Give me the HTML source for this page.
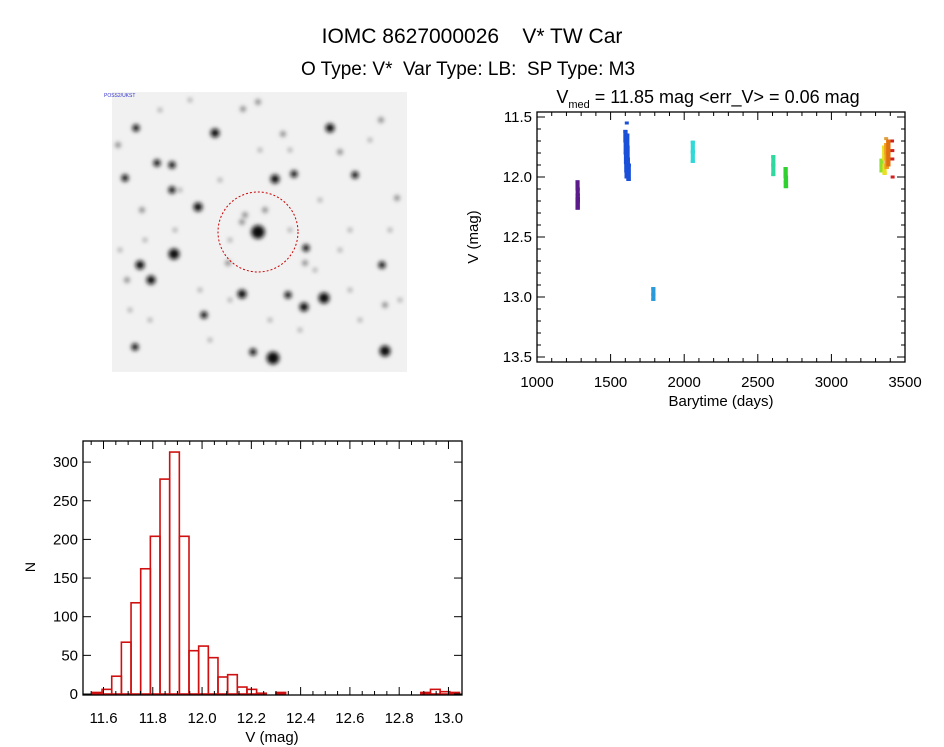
<!DOCTYPE html>
<html><head><meta charset="utf-8"><style>
html,body{margin:0;padding:0;background:#fff;width:944px;height:747px;overflow:hidden}
svg{display:block;font-family:"Liberation Sans",sans-serif}
</style></head><body>
<svg id="fig" width="944" height="747" viewBox="0 0 944 747">
<defs>
<filter id="bl" x="-1" y="-1" width="3" height="3"><feGaussianBlur stdDeviation="2.2"/></filter>
</defs>
<text x="472" y="43" font-size="21" text-anchor="middle" xml:space="preserve">IOMC 8627000026    V* TW Car</text>
<text x="468" y="75" font-size="19" text-anchor="middle" xml:space="preserve">O Type: V*  Var Type: LB:  SP Type: M3</text>
<g id="img">
<rect x="112" y="92" width="295" height="280" fill="#f1f1f1"/>
</g>
<g id="lc"></g>
<g id="hist"></g>
</svg>
<script>
// ---- sky image stars (x,y,r) ----
const starX=[258,136,215,275,330,198,174,140,151,242,324,304,204,273,253,385,135,382,294,355,172,125,157,172,306,305,228,283,381,340,243,258,397,142,127,288,385,242,118,160,190,230,320,350,370,300,270,210,150,390,130,180,290,340,200,360,260,220,245,265,120,400,315,175,230,350,290,145];
const starY=[232,128,133,179,128,207,254,265,280,294,298,307,315,358,352,351,347,265,174,175,190,178,163,165,248,263,263,134,120,152,109,102,198,210,280,295,305,222,145,110,100,240,200,230,140,330,320,340,320,230,310,190,150,250,290,320,150,180,215,210,250,300,270,230,300,290,230,240];
const starR=[7.5,4,5,5,5,5,6,5,5,5,6,5,4,7,4,6,4,4,4,4,4,4,4,4,4,3,3,3,3,3,3,3,3,3,3,4,3,3,3,2,2,2,2,2,2,2,2,2,2,2,2,2,2,2,2,2,2,2,3,3,2,2,2,2,2,2,2,2];
const NS="http://www.w3.org/2000/svg";
function mk(tag,attrs,parent){const e=document.createElementNS(NS,tag);for(const k in attrs)e.setAttribute(k,attrs[k]);parent.appendChild(e);return e;}
const img=document.getElementById('img');
for(let i=0;i<starX.length;i++){
  const c=mk('circle',{cx:starX[i],cy:starY[i],r:starR[i]*0.9,fill:starR[i]>=4?'#111':'#777',filter:'url(#bl)'},img);
  
  
}
const circ=mk('circle',{cx:258,cy:232,r:40,fill:'none',stroke:'#c00','stroke-width':1,'stroke-dasharray':'2 2'},img);


const ilab=mk('text',{x:104,y:97,'font-size':5,fill:'#33c'},img);ilab.textContent='POSS2/UKST';



// ---- light curve data ----
const lcT=[1275,1276,1277,1276,1278,1275,1600,1602,1604,1606,1608,1610,1612,1614,1616,1618,1620,1622,1624,1610,1612,1790,1791,1790,2058,2059,2058,2605,2606,2605,2688,2690,2692,2690,3340,3342,3340,3358,3360,3362,3360,3372,3374,3376,3374,3386,3388,3386,3372,3412,3414,3416,3414];
const lcV=[12.04,12.10,12.15,12.20,12.18,12.26,11.62,11.70,11.80,11.88,11.95,12.00,11.65,11.75,11.85,11.92,11.98,12.02,11.90,11.55,11.68,12.93,12.98,13.02,11.71,11.79,11.87,11.83,11.90,11.98,11.93,12.00,12.08,12.04,11.86,11.90,11.95,11.75,11.85,11.97,11.90,11.73,11.80,11.92,11.86,11.70,11.80,11.90,11.68,11.70,11.85,12.00,11.78];
const lcC=['#5a1a8a','#5a1a8a','#5a1a8a','#5a1a8a','#5a1a8a','#5a1a8a','#1a4fd8','#1a4fd8','#1a4fd8','#1a4fd8','#1a4fd8','#1a4fd8','#1a4fd8','#1a4fd8','#1a4fd8','#1a4fd8','#1a4fd8','#1a4fd8','#1a4fd8','#1a4fd8','#1a4fd8','#2a9ad8','#2a9ad8','#2a9ad8','#30d8d8','#30d8d8','#30d8d8','#30d8a0','#30d8a0','#30d8a0','#30d030','#30d030','#30d030','#30d030','#90e030','#90e030','#90e030','#e8e020','#e8e020','#e8e020','#e8e020','#f0a020','#f0a020','#f0a020','#f0a020','#e07010','#e07010','#e07010','#e0a040','#d02020','#d02020','#d02020','#d02020'];
const lcXTicks=[1000,1500,2000,2500,3000,3500];
const lcYTicks=[11.5,12.0,12.5,13.0,13.5];
const lcBox={l:537,r:905,t:112,b:362};
const lxs=t=>lcBox.l+(t-1000)/2500*(lcBox.r-lcBox.l);
const lys=v=>117+(v-11.5)*120;
const lc=document.getElementById('lc');
for(let i=0;i<lcT.length;i++){
  const m=mk('rect',{x:lxs(lcT[i])-2,y:lys(lcV[i])-1.5,width:4,height:3,fill:lcC[i]},lc);
  
  
}
for(let i=0;i+1<lcT.length;i++){
  if(Math.abs(lcT[i+1]-lcT[i])<=4 && lcC[i]===lcC[i+1] && Math.abs(lcV[i+1]-lcV[i])<0.12){
    const y1=Math.min(lys(lcV[i]),lys(lcV[i+1])),y2=Math.max(lys(lcV[i]),lys(lcV[i+1]));
    const s=mk('rect',{x:Math.min(lxs(lcT[i]),lxs(lcT[i+1]))-2,y:y1-1.5,width:Math.abs(lxs(lcT[i+1])-lxs(lcT[i]))+4,height:y2-y1+3,fill:lcC[i]},lc);
    
    
  }
}
function frame(g,box,name){const f=mk('rect',{x:box.l,y:box.t,width:box.r-box.l,height:box.b-box.t,fill:'none',stroke:'#000','stroke-width':1.3},g);}
frame(lc,lcBox,'lc-axes-frame');
for(let t=1000;t<=3500;t+=100){const x=lxs(t);const L=(t%500===0)?8:4;
  mk('line',{x1:x,x2:x,y1:lcBox.b,y2:lcBox.b-L,stroke:'#000'},lc);mk('line',{x1:x,x2:x,y1:lcBox.t,y2:lcBox.t+L,stroke:'#000'},lc);}
for(let k=0;k<=20;k++){const v=11.5+k*0.1;const y=lys(v);const L=(k%5===0)?8:4;
  mk('line',{x1:lcBox.l,x2:lcBox.l+L,y1:y,y2:y,stroke:'#000'},lc);mk('line',{x1:lcBox.r,x2:lcBox.r-L,y1:y,y2:y,stroke:'#000'},lc);}
lcXTicks.forEach(t=>{const e=mk('text',{x:lxs(t),y:387,'font-size':15,'text-anchor':'middle'},lc);e.textContent=t;});
lcYTicks.forEach(v=>{const e=mk('text',{x:532,y:lys(v)+5,'font-size':15,'text-anchor':'end'},lc);e.textContent=v.toFixed(1);});
let e=mk('text',{x:721,y:406,'font-size':15,'text-anchor':'middle'},lc);e.textContent='Barytime (days)';
e=mk('text',{x:478,y:237,'font-size':15,'text-anchor':'middle',transform:'rotate(-90 478 237)'},lc);e.textContent='V (mag)';
e=mk('text',{x:708,y:103,'font-size':18,'text-anchor':'middle'},lc);e.innerHTML='V<tspan font-size="11" dy="5">med</tspan><tspan dy="-5"> = 11.85 mag &lt;err_V&gt; = 0.06 mag</tspan>';

// ---- histogram data ----
const binStart=11.555, binWidth=0.0392;
const counts=[2,6,23,67,118,162,204,278,313,204,56,62,47,22,25,9,6,1,0,2,0,0,0,0,0,0,0,0,0,0,0,0,0,0,2,6,3,2];
const hXTicks=[11.6,11.8,12.0,12.2,12.4,12.6,12.8,13.0];
const hYTicks=[0,50,100,150,200,250,300];
const hBox={l:83,r:462,t:441,b:695};
const hxs=v=>103.5+(v-11.6)*246.4;
const hys=n=>694-n*0.773;
const hist=document.getElementById('hist');
for(let i=0;i<counts.length;i++){
  const x0=hxs(binStart+i*binWidth),x1=hxs(binStart+(i+1)*binWidth);
  const b=mk('rect',{x:x0,y:hys(counts[i]),width:x1-x0,height:Math.max(0,hys(0)-hys(counts[i])),fill:'none',stroke:'#d01010','stroke-width':1.6},hist);
  
  
}
frame(hist,hBox,'hist-axes-frame');
for(let k=0;k<=30;k++){const v=11.5+k*0.05;const x=hxs(v);if(x<hBox.l||x>hBox.r)continue;const L=(Math.round(v*100)%20===0)?8:4;
  mk('line',{x1:x,x2:x,y1:hBox.b,y2:hBox.b-L,stroke:'#000'},hist);mk('line',{x1:x,x2:x,y1:hBox.t,y2:hBox.t+L,stroke:'#000'},hist);}
hYTicks.forEach(n=>{const y=hys(n);mk('line',{x1:hBox.l,x2:hBox.l+8,y1:y,y2:y,stroke:'#000'},hist);mk('line',{x1:hBox.r,x2:hBox.r-8,y1:y,y2:y,stroke:'#000'},hist);
  const t=mk('text',{x:78,y:y+5,'font-size':15,'text-anchor':'end'},hist);t.textContent=n;});
hXTicks.forEach(v=>{const t=mk('text',{x:hxs(v),y:723,'font-size':15,'text-anchor':'middle'},hist);t.textContent=v.toFixed(1);});
e=mk('text',{x:272,y:742,'font-size':15,'text-anchor':'middle'},hist);e.textContent='V (mag)';
e=mk('text',{x:35,y:567,'font-size':14,'text-anchor':'middle',transform:'rotate(-90 35 567)'},hist);e.textContent='N';
</script>
</body></html>
